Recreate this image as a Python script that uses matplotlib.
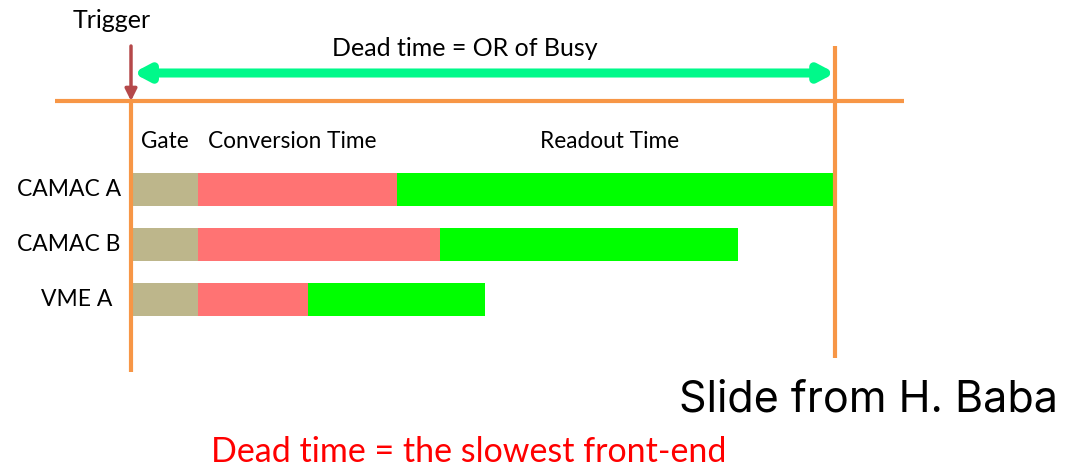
import matplotlib
matplotlib.use('Agg')
import matplotlib.pyplot as plt
import numpy as np

# front-end modules and their busy phases (arbitrary time units)
modules = ['CAMAC A', 'CAMAC B', 'VME A']
gate_time = [10.0, 10.0, 10.0]
conversion_time = [29.7, 36.1, 16.4]
readout_time = [65.4, 44.5, 26.4]
phase_labels = ['Gate', 'Conversion Time', 'Readout Time']

C_ORANGE = '#f79646'
C_GATE = '#bdb68b'
C_CONV = '#ff7373'
C_READ = '#00ff00'
C_TRIG = '#b5484a'
C_DEAD = '#00f98a'

W, H = 1065, 470
fig = plt.figure(figsize=(W / 100, H / 100), dpi=100)
ax = fig.add_axes([0, 0, 1, 1])
ax.axis('off')

# time axis: t=0 at trigger (x=131px), 6.7 px per unit
px_per_t = 6.7
x0 = 131
ax.set_xlim(-x0 / px_per_t, (W - x0) / px_per_t)
# rows: row 0 at y=189.7px, 55px spacing
row_px, row0 = 55.0, 189.7
ax.set_ylim((H - row0) / row_px, -row0 / row_px)

def ypx(p):
    return (p - row0) / row_px

def xpx(p):
    return (p - x0) / px_per_t

gate = np.array(gate_time)
conv = np.array(conversion_time)
read = np.array(readout_time)
y = np.arange(len(modules))
h = 32.7 / row_px

ax.barh(y, gate, height=h, color=C_GATE, zorder=2)
ax.barh(y, conv, left=gate, height=h, color=C_CONV, zorder=2)
ax.barh(y, read, left=gate + conv, height=h, color=C_READ, zorder=2)

dead = (gate + conv + read).max()

# timing lines
ax.plot([xpx(55), xpx(904)], [ypx(101), ypx(101)], color=C_ORANGE, lw=3, zorder=3,
        solid_capstyle='butt')
ax.plot([0, 0], [ypx(101), ypx(372)], color=C_ORANGE, lw=3, zorder=3,
        solid_capstyle='butt')
ax.plot([dead, dead], [ypx(46), ypx(358)], color=C_ORANGE, lw=3, zorder=3,
        solid_capstyle='butt')

# trigger arrow
ax.annotate('', xy=(0, ypx(101)), xytext=(0, ypx(46)),
            arrowprops=dict(arrowstyle='-|>,head_length=0.7,head_width=0.35',
                            color=C_TRIG, lw=2.5, shrinkA=0, shrinkB=0), zorder=4)

# dead time double arrow
ax.annotate('', xy=(dead, ypx(73)), xytext=(0.3, ypx(73)),
            arrowprops=dict(arrowstyle='<|-|>,head_length=0.85,head_width=0.45',
                            color=C_DEAD, lw=6.5, shrinkA=0, shrinkB=0), zorder=4)

font = ['Lato', 'DejaVu Sans']
ax.text(xpx(112), ypx(20), 'Trigger', ha='center', va='center', fontsize=18, family=font)
ax.text(xpx(465), ypx(48), 'Dead time = OR of Busy', ha='center', va='center',
        fontsize=18, family=font)

# phase headers
ax.text(gate[0] / 2, ypx(142), phase_labels[0], ha='center', va='center',
        fontsize=16.3, family=font)
ax.text(xpx(292), ypx(142), phase_labels[1], ha='center', va='center',
        fontsize=16.3, family=font)
ax.text(xpx(610), ypx(142), phase_labels[2], ha='center', va='center',
        fontsize=16.3, family=font)

label_right = [121, 120, 112]
for yi, name, xr in zip(y, modules, label_right):
    ax.text(xpx(xr), yi, name, ha='right', va='center', fontsize=16.5, family=font)

ax.text(xpx(1058), ypx(400), 'Slide from H. Baba', ha='right', va='center',
        fontsize=31, family=['Inter', 'DejaVu Sans'])
ax.text(xpx(469), ypx(452), 'Dead time = the slowest front-end', ha='center',
        va='center', fontsize=24.5, color='#ff0000', family=font)

fig.savefig('out.png', dpi=100)
